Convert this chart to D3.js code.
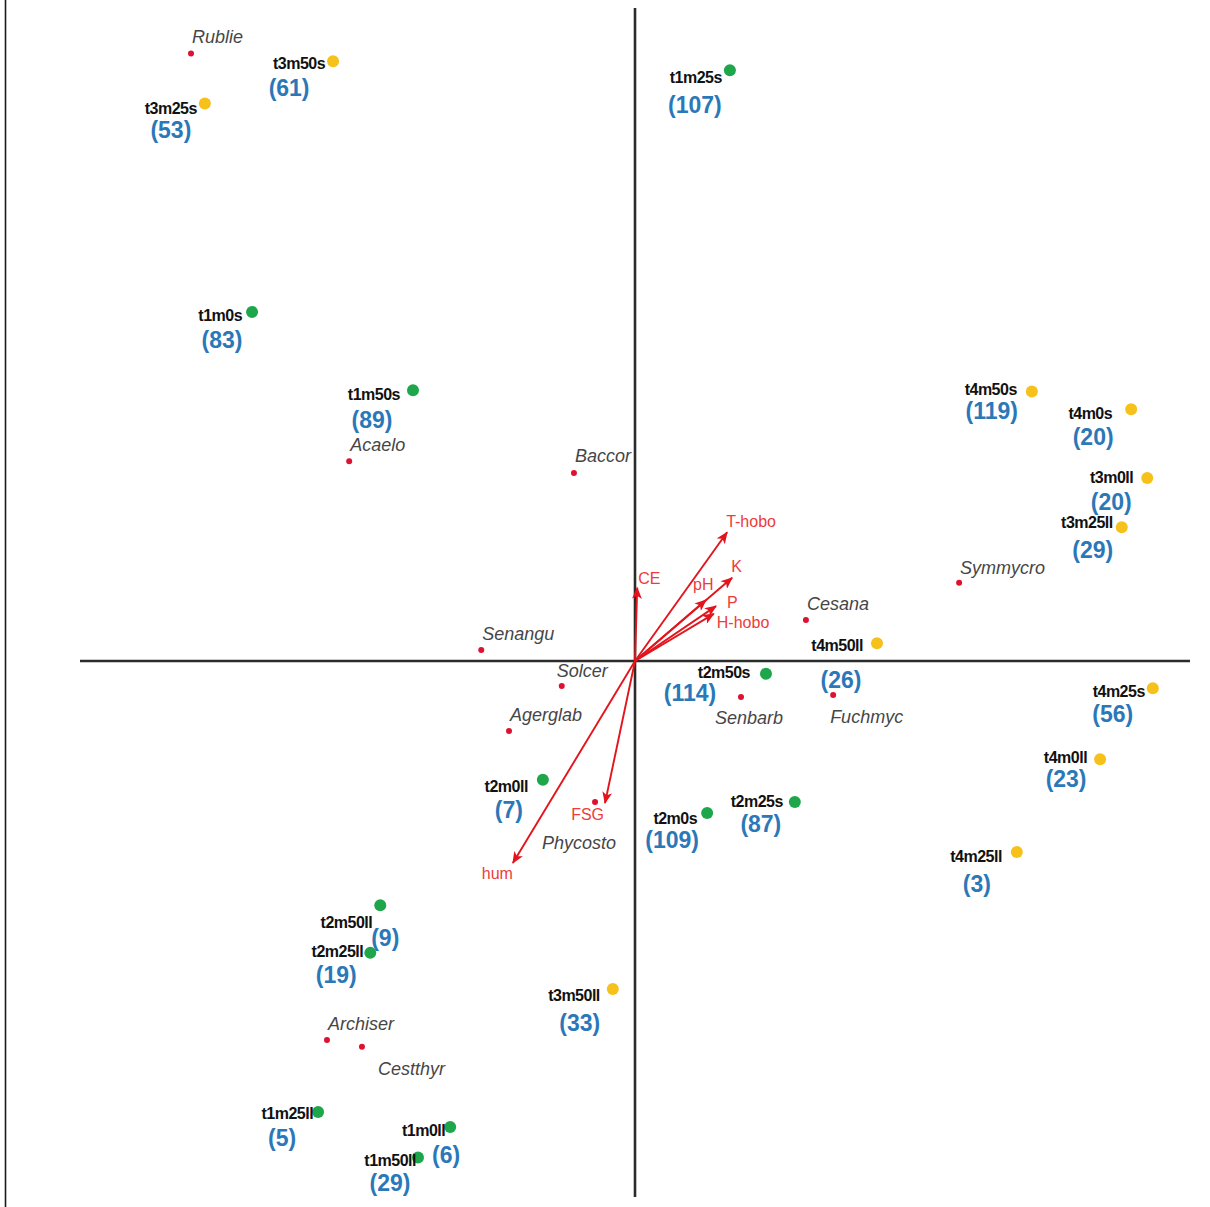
<!DOCTYPE html>
<html>
<head>
<meta charset="utf-8">
<script src="https://cdn.jsdelivr.net/npm/d3@7/dist/d3.min.js"></script>
<style>
  html, body { margin: 0; padding: 0; background: #fff; }
  svg { display: block; }
</style>
</head>
<body>
<svg id="chart" width="1210" height="1207"></svg>
<script>
// Ordination scores (axis 1, axis 2) for plots, species and environmental vectors.

// Plots: name, axis-1 score, axis-2 score, treatment group, count shown in brackets
const siteNames  = ["t3m50s","t3m25s","t1m25s","t1m0s","t1m50s","t4m50s","t4m0s","t3m0ll","t3m25ll","t4m25s","t4m50ll","t2m50s","t2m0ll","t2m0s","t2m25s","t4m25ll","t4m0ll","t2m50ll","t2m25ll","t3m50ll","t1m25ll","t1m0ll","t1m50ll"];
const siteAxis1  = [-0.544,-0.775, 0.171,-0.690,-0.400, 0.715, 0.894, 0.923, 0.877, 0.933, 0.436, 0.236,-0.166, 0.130, 0.288, 0.688, 0.838,-0.459,-0.477,-0.040,-0.571,-0.333,-0.391];
const siteAxis2  = [ 1.081, 1.005, 1.065, 0.629, 0.488, 0.486, 0.454, 0.330, 0.241,-0.049, 0.032,-0.023,-0.214,-0.274,-0.254,-0.344,-0.177,-0.440,-0.526,-0.591,-0.813,-0.840,-0.895];
const siteGroup  = ["B","B","A","A","A","B","B","B","B","B","B","A","A","A","A","B","B","A","A","B","A","A","A"];
const siteCounts = [61,53,107,83,89,119,20,20,29,56,26,114,7,109,87,3,23,9,19,33,5,6,29];

// Species scores
const speciesNames = ["Rublie","Acaelo","Baccor","Symmycro","Cesana","Senangu","Solcer","Agerglab","Senbarb","Fuchmyc","Phycosto","Archiser","Cestthyr"];
const speciesAxis1 = [-0.800,-0.515,-0.110, 0.584, 0.308,-0.277,-0.132,-0.227, 0.191, 0.357,-0.072,-0.555,-0.492];
const speciesAxis2 = [ 1.095, 0.360, 0.339, 0.141, 0.074, 0.020,-0.045,-0.126,-0.065,-0.061,-0.254,-0.683,-0.695];

// Environmental vectors (arrow tips)
const envNames = ["T-hobo","K","pH","P","H-hobo","CE","FSG","hum"];
const envAxis1 = [0.166, 0.175, 0.128, 0.146, 0.142, 0.004,-0.054,-0.220];
const envAxis2 = [0.232, 0.150, 0.110, 0.099, 0.085, 0.132,-0.256,-0.364];

// Axis extents
const xDomain = [-1.0, 1.0];
const yDomain = [-0.966, 1.177];

// ---- layout & style ----
const W = 1210, H = 1207;
const groupColor = { A: "#1ea64b", B: "#f6c11a" };

// label placement in px relative to the point: [labelEndDx, labelDy, numberDx, numberDy]
const siteLabelPos = {
  "t3m50s": [-8, 2, -44, 27], "t3m25s": [-8, 5, -34, 27], "t1m25s": [-8, 7, -35, 35],
  "t1m0s": [-10, 3, -30, 28], "t1m50s": [-13, 4, -41, 30], "t4m50s": [-15, -2, -40, 20],
  "t4m0s": [-19, 4, -38, 28], "t3m0ll": [-14, 0, -36, 24], "t3m25ll": [-9, -5, -29, 23],
  "t4m25s": [-8, 3, -40, 26], "t4m50ll": [-14, 2, -36, 37], "t2m50s": [-16, -1, -76, 19],
  "t2m0ll": [-15, 7, -34, 30], "t2m0s": [-10, 5, -35, 27], "t2m25s": [-12, 0, -34, 22],
  "t4m25ll": [-15, 5, -40, 32], "t4m0ll": [-13, -2, -34, 20], "t2m50ll": [-8, 17, 5, 33],
  "t2m25ll": [-7, -1, -34, 22], "t3m50ll": [-13, 7, -33, 34], "t1m25ll": [-5, 1, -36, 26],
  "t1m0ll": [-5, 3, -4, 28], "t1m50ll": [-2, 3, -28, 25]
};
// species label placement: [dx, dy]
const speciesLabelPos = {
  "Rublie": [1, -16], "Acaelo": [1, -16], "Baccor": [1, -17], "Symmycro": [1, -15],
  "Cesana": [1, -16], "Senangu": [1, -16], "Solcer": [-5, -15], "Agerglab": [1, -16],
  "Senbarb": [-26, 21], "Fuchmyc": [-3, 22], "Phycosto": [-53, 41], "Archiser": [1, -16],
  "Cestthyr": [16, 22]
};
// vector label placement: [dx, dy, anchor]
const envLabelPos = {
  "T-hobo": [-1, -11, "start"], "K": [-1, -11, "start"], "pH": [-13, -16, "start"],
  "P": [11, -4, "start"], "H-hobo": [3, 9, "start"], "CE": [1, -9, "start"],
  "FSG": [-1, 11, "end"], "hum": [0, 11, "end"]
};

const svg = d3.select("#chart");

const x = d3.scaleLinear().domain(xDomain).range([80, 1190]);
const y = d3.scaleLinear().domain(yDomain).range([1197, 8]);

// left frame line
svg.append("line")
  .attr("x1", 5.5).attr("x2", 5.5).attr("y1", 0).attr("y2", H)
  .attr("stroke", "#1a1a1a").attr("stroke-width", 1.6);

// zero axes
svg.append("line")
  .attr("x1", x(xDomain[0])).attr("x2", x(xDomain[1]))
  .attr("y1", y(0)).attr("y2", y(0))
  .attr("stroke", "#2b2b2b").attr("stroke-width", 2.6);
svg.append("line")
  .attr("x1", x(0)).attr("x2", x(0))
  .attr("y1", y(yDomain[0])).attr("y2", y(yDomain[1]))
  .attr("stroke", "#2b2b2b").attr("stroke-width", 2.6);

// arrowhead
svg.append("defs").append("marker")
  .attr("id", "head")
  .attr("viewBox", "0 0 12 10")
  .attr("refX", 11).attr("refY", 5)
  .attr("markerWidth", 13).attr("markerHeight", 10)
  .attr("markerUnits", "userSpaceOnUse")
  .attr("orient", "auto")
  .append("path").attr("d", "M0,0 L12,5 L0,10 L3,5 Z").attr("fill", "#e3141c");

const envData = envNames.map((n, i) => ({ name: n, x: envAxis1[i], y: envAxis2[i] }));
const speciesData = speciesNames.map((n, i) => ({ name: n, x: speciesAxis1[i], y: speciesAxis2[i] }));
const siteData = siteNames.map((n, i) => ({ name: n, x: siteAxis1[i], y: siteAxis2[i], g: siteGroup[i], n: siteCounts[i] }));

// species points
const sp = svg.append("g");
sp.selectAll("circle").data(speciesData).join("circle")
  .attr("cx", d => x(d.x)).attr("cy", d => y(d.y)).attr("r", 3)
  .attr("fill", "#de1133");
sp.selectAll("text").data(speciesData).join("text")
  .attr("x", d => x(d.x) + speciesLabelPos[d.name][0])
  .attr("y", d => y(d.y) + speciesLabelPos[d.name][1])
  .attr("dominant-baseline", "central")
  .attr("font-family", "'Liberation Sans', Arial, sans-serif")
  .attr("font-style", "italic")
  .attr("font-size", 18)
  .attr("fill", "#464646")
  .text(d => d.name);

// environmental vectors
const ev = svg.append("g");
ev.selectAll("line").data(envData).join("line")
  .attr("x1", x(0)).attr("y1", y(0))
  .attr("x2", d => x(d.x)).attr("y2", d => y(d.y))
  .attr("stroke", "#e3141c").attr("stroke-width", 1.9)
  .attr("marker-end", "url(#head)");
ev.selectAll("text").data(envData).join("text")
  .attr("x", d => x(d.x) + envLabelPos[d.name][0])
  .attr("y", d => y(d.y) + envLabelPos[d.name][1])
  .attr("text-anchor", d => envLabelPos[d.name][2])
  .attr("dominant-baseline", "central")
  .attr("font-family", "'Liberation Sans', Arial, sans-serif")
  .attr("font-size", 16)
  .attr("fill", "#ee3b3b")
  .text(d => d.name);

// plots
const st = svg.append("g");
st.selectAll("circle").data(siteData).join("circle")
  .attr("cx", d => x(d.x)).attr("cy", d => y(d.y)).attr("r", 6)
  .attr("fill", d => groupColor[d.g]);
st.selectAll("text.site").data(siteData).join("text")
  .attr("class", "site")
  .attr("x", d => x(d.x) + siteLabelPos[d.name][0])
  .attr("y", d => y(d.y) + siteLabelPos[d.name][1])
  .attr("text-anchor", "end")
  .attr("dominant-baseline", "central")
  .attr("font-family", "'Liberation Sans Narrow', 'Liberation Sans', Arial, sans-serif")
  .attr("font-weight", "bold")
  .attr("font-size", 16)
  .attr("letter-spacing", -0.5)
  .attr("fill", "#111")
  .text(d => d.name);
st.selectAll("text.count").data(siteData).join("text")
  .attr("class", "count")
  .attr("x", d => x(d.x) + siteLabelPos[d.name][2])
  .attr("y", d => y(d.y) + siteLabelPos[d.name][3])
  .attr("text-anchor", "middle")
  .attr("dominant-baseline", "central")
  .attr("font-family", "'Liberation Sans', Arial, sans-serif")
  .attr("font-weight", "bold")
  .attr("font-size", 23)
  .attr("fill", "#2b78b8")
  .text(d => "(" + d.n + ")");
</script>
</body>
</html>
